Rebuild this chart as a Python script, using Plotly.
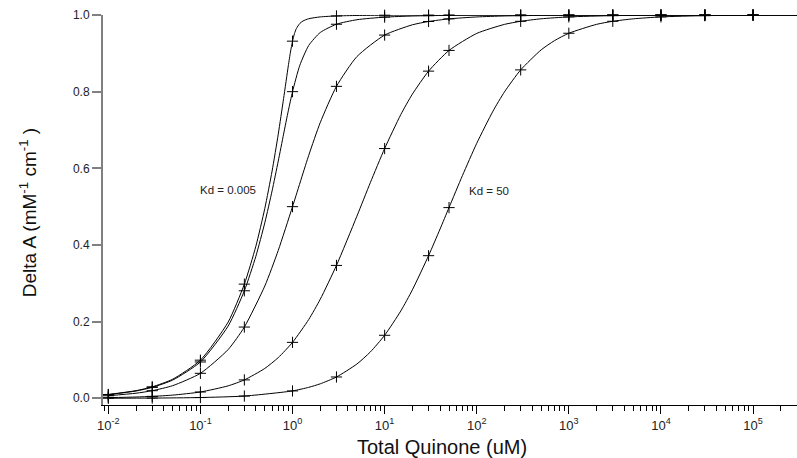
import plotly.graph_objects as go

# ---- data ----
kd_labels = ["Kd = 0.005", "Kd = 0.05", "Kd = 0.5", "Kd = 5", "Kd = 50"]

# marker positions (Total Quinone, uM)
marker_x = [0.01, 0.03, 0.1, 0.3, 1, 3, 10, 30, 50, 300, 1000, 3000, 1e4, 3e4, 1e5, 3e5]
marker_kd0005 = [0.00995, 0.02985, 0.09945, 0.29788, 0.93175, 0.99751, 0.99944, 0.99983, 0.9999, 0.99998, 1.0, 1.0, 1.0, 1.0, 1.0, 1.0]
marker_kd005 = [0.00952, 0.02853, 0.09477, 0.28051, 0.8, 0.97589, 0.99448, 0.99828, 0.99898, 0.99983, 0.99995, 0.99998, 1.0, 1.0, 1.0, 1.0]
marker_kd05 = [0.00665, 0.01987, 0.06515, 0.18586, 0.5, 0.81386, 0.94765, 0.98306, 0.9899, 0.99833, 0.9995, 0.99983, 0.99995, 0.99998, 1.0, 1.0]
marker_kd5 = [0.00166, 0.00498, 0.01644, 0.04798, 0.1459, 0.34669, 0.65153, 0.85357, 0.90757, 0.98355, 0.99502, 0.99833, 0.9995, 0.99983, 0.99995, 0.99998]
marker_kd50 = [0.0002, 0.00059, 0.00196, 0.00585, 0.01924, 0.05561, 0.16438, 0.37208, 0.4975, 0.8568, 0.95235, 0.9836, 0.99505, 0.99834, 0.9995, 0.99983]

# smooth curve points
curve_kd0005_x = [0.01, 0.02, 0.03, 0.05, 0.1, 0.2, 0.3, 0.4, 0.5, 0.6, 0.7, 0.8, 0.9, 0.95, 1, 1.05, 1.1, 1.2, 1.3, 1.5, 2, 3, 5, 10, 30, 100, 1000, 3e5]
curve_kd0005_y = [0.00995, 0.0199, 0.02985, 0.04974, 0.09945, 0.19876, 0.29788, 0.39671, 0.4951, 0.59272, 0.68893, 0.78206, 0.86731, 0.9033, 0.93175, 0.95163, 0.96443, 0.97798, 0.98441, 0.99029, 0.99505, 0.99751, 0.99875, 0.99944, 0.99983, 0.99995, 1.0, 1.0]

curve_kd005_x = [0.01, 0.02, 0.03, 0.05, 0.1, 0.2, 0.3, 0.4, 0.5, 0.6, 0.7, 0.8, 0.9, 1, 1.2, 1.5, 2, 3, 5, 10, 20, 30, 50, 100, 1000, 3e5]
curve_kd005_y = [0.00952, 0.01903, 0.02853, 0.04751, 0.09477, 0.18839, 0.28051, 0.37057, 0.45779, 0.54106, 0.61883, 0.68915, 0.75, 0.8, 0.86883, 0.92057, 0.95437, 0.97589, 0.98769, 0.99448, 0.99737, 0.99828, 0.99898, 0.9995, 0.99995, 1.0]

curve_kd05_x = [0.01, 0.02, 0.03, 0.05, 0.1, 0.2, 0.3, 0.5, 0.7, 1, 1.5, 2, 3, 5, 10, 20, 30, 50, 100, 200, 500, 1000, 1e4, 3e5]
curve_kd05_y = [0.00665, 0.01327, 0.01987, 0.03296, 0.06515, 0.12716, 0.18586, 0.29289, 0.38586, 0.5, 0.63397, 0.71922, 0.81386, 0.8915, 0.94765, 0.97439, 0.98306, 0.9899, 0.99495, 0.99749, 0.999, 0.9995, 0.99995, 1.0]

curve_kd5_x = [0.01, 0.02, 0.03, 0.05, 0.1, 0.2, 0.3, 0.5, 0.7, 1, 1.5, 2, 3, 5, 7, 10, 15, 20, 30, 50, 100, 200, 300, 500, 1000, 3000, 1e4, 1e5, 3e5]
curve_kd5_y = [0.00166, 0.00332, 0.00498, 0.00828, 0.01644, 0.03243, 0.04798, 0.07786, 0.10616, 0.1459, 0.20564, 0.25834, 0.34669, 0.47506, 0.56283, 0.65153, 0.74039, 0.79345, 0.85357, 0.90757, 0.95194, 0.9755, 0.98355, 0.9901, 0.99502, 0.99833, 0.9995, 0.99995, 0.99998]

curve_kd50_x = [0.01, 0.03, 0.1, 0.3, 1, 1.5, 2, 3, 5, 7, 10, 15, 20, 30, 40, 50, 70, 100, 150, 200, 300, 500, 700, 1000, 2000, 3000, 5000, 1e4, 3e4, 1e5, 3e5]
curve_kd50_y = [0.0002, 0.00059, 0.00196, 0.00585, 0.01924, 0.02859, 0.03776, 0.05561, 0.08943, 0.12094, 0.16438, 0.22806, 0.28282, 0.37208, 0.44171, 0.4975, 0.58131, 0.66518, 0.74906, 0.79936, 0.8568, 0.90894, 0.93325, 0.95235, 0.9756, 0.9836, 0.99, 0.99505, 0.99834, 0.9995, 0.99983]

y_ticks = [0.0, 0.2, 0.4, 0.6, 0.8, 1.0]
x_tick_vals = [0.01, 0.1, 1, 10, 100, 1000, 1e4, 1e5]
x_tick_text = ["10<sup>-2</sup>", "10<sup>-1</sup>", "10<sup>0</sup>", "10<sup>1</sup>",
               "10<sup>2</sup>", "10<sup>3</sup>", "10<sup>4</sup>", "10<sup>5</sup>"]

curves = [
    (curve_kd0005_x, curve_kd0005_y, marker_kd0005),
    (curve_kd005_x, curve_kd005_y, marker_kd005),
    (curve_kd05_x, curve_kd05_y, marker_kd05),
    (curve_kd5_x, curve_kd5_y, marker_kd5),
    (curve_kd50_x, curve_kd50_y, marker_kd50),
]

FONT = "Arial, Liberation Sans, Helvetica, sans-serif"

fig = go.Figure()
for (cx, cy, my), name in zip(curves, kd_labels):
    fig.add_trace(go.Scatter(x=cx, y=cy, mode="lines", name=name,
                             line=dict(color="black", width=1, shape="spline", smoothing=0.6),
                             cliponaxis=False, showlegend=False, hoverinfo="skip"))
    fig.add_trace(go.Scatter(x=marker_x, y=my, mode="markers", name=name,
                             marker=dict(symbol="cross-thin", size=8, color="black",
                                         line=dict(color="black", width=1)),
                             cliponaxis=False, showlegend=False))

fig.update_layout(
    width=797, height=458,
    margin=dict(l=103, r=0, t=15, b=53),
    plot_bgcolor="white", paper_bgcolor="white",
    font=dict(family=FONT, color="#222222", size=12),
    xaxis=dict(
        type="log", range=[-2.0575, 5.477],
        tickmode="array", tickvals=x_tick_vals, ticktext=x_tick_text,
        showgrid=False, zeroline=False,
        showline=True, linecolor="black", linewidth=1,
        ticks="outside", ticklen=8, tickwidth=1, tickcolor="black",
        tickfont=dict(size=13, color="#222222"),
        minor=dict(ticks="outside", ticklen=5, tickwidth=1, tickcolor="black",
                   dtick="D1", showgrid=False),
    ),
    yaxis=dict(
        range=[-0.0175, 1.0],
        tickvals=y_ticks, tickformat=".1f",
        showgrid=False, zeroline=False,
        showline=True, linecolor="#808080", linewidth=2,
        ticks="outside", ticklen=9, tickwidth=2, tickcolor="#808080",
        tickfont=dict(size=12, color="#222222"),
    ),
    annotations=[
        dict(text="Kd = 0.005", x=-0.3755, y=0.544, xref="x", yref="y",
             xanchor="right", yanchor="middle", showarrow=False,
             font=dict(size=11.5, color="#222222", family=FONT)),
        dict(text="Kd = 50", x=1.893, y=0.541, xref="x", yref="y",
             xanchor="left", yanchor="middle", showarrow=False,
             font=dict(size=11.5, color="#222222", family=FONT)),
        dict(text="Total Quinone (uM)", x=0.4885, y=-0.1077, xref="paper", yref="paper",
             xanchor="center", yanchor="middle", showarrow=False,
             font=dict(size=20, color="#111111", family=FONT)),
        dict(text="Delta A (mM<sup>-1</sup> cm<sup>-1</sup> )", x=-0.108, y=0.492,
             xref="paper", yref="paper", textangle=-90,
             xanchor="center", yanchor="middle", showarrow=False,
             font=dict(size=19, color="#111111", family=FONT)),
    ],
)

fig.write_html("out.html")
